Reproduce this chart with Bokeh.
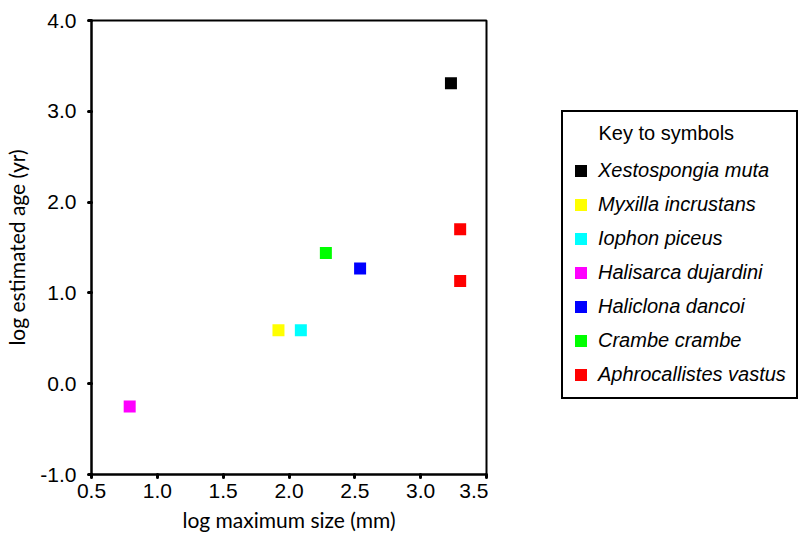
from bokeh.plotting import figure
from bokeh.layouts import row
from bokeh.models import (Legend, LegendItem, FixedTicker, PrintfTickFormatter, Range1d, Label)
from bokeh.embed import file_html
from bokeh.resources import INLINE

# ---- data ----
species = ["Xestospongia muta", "Myxilla incrustans", "Iophon piceus",
           "Halisarca dujardini", "Haliclona dancoi", "Crambe crambe",
           "Aphrocallistes vastus"]
colors = ["#000000", "#FFFF00", "#00FFFF", "#FF00FF", "#0000FF", "#00FF00", "#FF0000"]
log_size = [[3.23], [1.92], [2.09], [0.79], [2.54], [2.28], [3.30, 3.30]]
log_age = [[3.31], [0.59], [0.59], [-0.25], [1.27], [1.44], [1.70, 1.13]]

x_ticks = [0.5, 1.0, 1.5, 2.0, 2.5, 3.0, 3.5]
y_ticks = [-1.0, 0.0, 1.0, 2.0, 3.0, 4.0]
legend_title = "Key to symbols"

# ---- main scatter plot ----
p = figure(frame_width=395, frame_height=454, output_backend="svg", toolbar_location=None,
           x_range=Range1d(0.5, 3.5), y_range=Range1d(-1.0, 4.0),
           min_border_left=91, min_border_right=2, min_border_top=20,
           min_border_bottom=67)
p.grid.visible = False
p.outline_line_color = "black"
p.outline_line_width = 2
p.background_fill_color = "white"
p.border_fill_color = "white"

for name, col, xs, ys in zip(species, colors, log_size, log_age):
    p.rect(x=xs, y=ys, width=12, height=12, width_units="screen",
           height_units="screen", fill_color=col, line_color=None)

for ax in (p.xaxis[0], p.yaxis[0]):
    ax.axis_line_color = "black"
    ax.axis_line_width = 2
    ax.major_tick_line_color = "black"
    ax.major_tick_line_width = 3
    ax.major_tick_line_cap = "round"
    ax.major_tick_in = 0
    ax.major_tick_out = 3
    ax.minor_tick_line_color = None
    ax.major_label_text_font = "Liberation Sans"
    ax.major_label_text_font_size = "21px"
    ax.major_label_text_color = "black"
    ax.formatter = PrintfTickFormatter(format="%.1f")
    ax.axis_label_text_font = "Lato"
    ax.axis_label_text_font_size = "21px"
    ax.axis_label_text_font_style = "normal"
    ax.axis_label_text_color = "black"

p.xaxis[0].ticker = FixedTicker(ticks=x_ticks)
p.yaxis[0].ticker = FixedTicker(ticks=y_ticks)
p.xaxis[0].axis_label = "log maximum size (mm)"
p.yaxis[0].axis_label = "log estimated age (yr)"
p.xaxis[0].major_label_standoff = 6
p.yaxis[0].major_label_standoff = 12
p.xaxis[0].axis_label_standoff = 6
p.yaxis[0].axis_label_standoff = 8

# ---- legend panel (separate figure; its frame is aligned with the main frame) ----
q = figure(width=314, height=541, output_backend="svg", toolbar_location=None,
           x_range=Range1d(10, 11), y_range=Range1d(10, 11),
           x_axis_location=None, y_axis_location=None, min_border=0)
q.grid.visible = False
q.outline_line_color = None
q.border_fill_color = "white"
q.background_fill_color = "white"

items = []
for name, col, xs, ys in zip(species, colors, log_size, log_age):
    r = q.rect(x=xs, y=ys, width=12, height=12, width_units="screen",
               height_units="screen", fill_color=col, line_color=None)
    items.append(LegendItem(label=name, renderers=[r]))

legend = Legend(items=items, location=(73, 75),
                title=" ",
                title_text_font="Liberation Sans", title_text_font_size="20px",
                title_text_font_style="normal", title_text_color="black",
                title_standoff=13,
                label_text_font="Liberation Sans", label_text_font_size="20px",
                label_text_font_style="italic", label_text_color="black",
                glyph_width=15, glyph_height=15, label_height=25,
                label_standoff=10, spacing=9, padding=10, margin=0,
                border_line_color="black", border_line_width=2,
                border_line_alpha=1.0,
                background_fill_color=None)
q.add_layout(legend, "center")

q.add_layout(Label(x=110, y=342, x_units="screen", y_units="screen",
                   text=legend_title, text_font="Liberation Sans",
                   text_font_size="20px", text_baseline="middle",
                   text_color="black", level="overlay"))

open("out.html", "w").write(file_html(row(p, q), INLINE))
